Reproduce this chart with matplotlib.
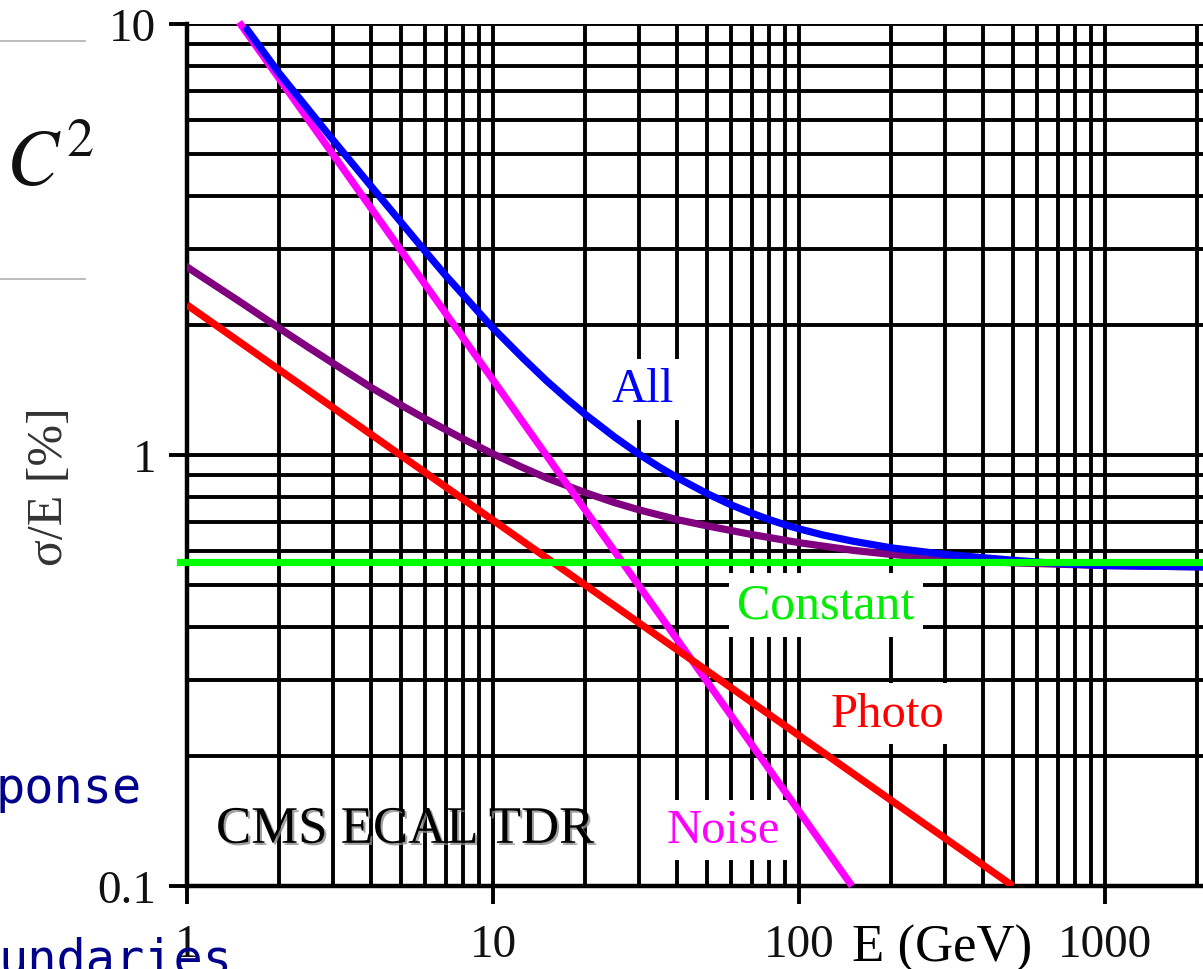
import matplotlib
matplotlib.use("Agg")
import matplotlib.pyplot as plt
import matplotlib.patheffects as pe
from matplotlib.ticker import LogLocator, NullFormatter, FixedLocator, FixedFormatter

plt.rcParams['font.family'] = ['Liberation Serif', 'DejaVu Serif']
plt.rcParams['mathtext.fontset'] = 'stix'

# curves (E in GeV, sigma/E in %)
E_all = [1.55, 2, 3, 4, 5, 6, 7, 8, 9, 10, 12.5, 15, 17.5, 20, 25, 30, 35, 40, 50, 60, 70, 80, 90,
         100, 120, 150, 200, 300, 500, 700, 1000, 2090]
res_all = [9.85, 7.69, 5.38, 4.20, 3.47, 2.97, 2.61, 2.35, 2.14, 1.97, 1.68, 1.484, 1.347, 1.243, 1.10,
           1.004, 0.937, 0.886, 0.814, 0.766, 0.733, 0.708, 0.689, 0.674, 0.652, 0.631, 0.609, 0.588,
           0.570, 0.560, 0.554, 0.55]

E_stoch = [1, 1.5, 2, 2.5, 3, 4, 5, 6, 7, 8, 10, 12.5, 15, 20, 25, 30, 40, 50, 70, 100, 150, 200, 300,
           500, 1000, 2090]
res_stoch = [2.73, 2.26, 1.97, 1.775, 1.633, 1.434, 1.306, 1.214, 1.145, 1.089, 1.006, 0.935, 0.884,
             0.818, 0.775, 0.746, 0.708, 0.685, 0.654, 0.626, 0.601, 0.588, 0.574, 0.562, 0.554, 0.55]

E_photo = [1, 500]
res_photo = [2.23, 0.1]

E_noise = [1.48, 149]
res_noise = [10.1, 0.1]

E_const = [0.95, 2090]
res_const = [0.565, 0.565]

xticks = [1, 10, 100, 1000]
xticklabels = ['1', '10', '100', '1000']
yticks = [0.1, 1, 10]
yticklabels = ['0.1', '1', '10']

W, H = 1203, 970
fig = plt.figure(figsize=(W / 100, H / 100), dpi=100)
ax = fig.add_axes([187 / W, 1 - 887 / H, 1 - 187 / W, (887 - 25) / H])
ax.set_xscale('log')
ax.set_yscale('log')
ax.set_xlim(1, 2090)
ax.set_ylim(0.1, 10)

# heavy black grid, every decade subdivision
ax.xaxis.set_minor_locator(LogLocator(base=10, subs=range(2, 10), numticks=20))
ax.yaxis.set_minor_locator(LogLocator(base=10, subs=range(2, 10), numticks=20))
ax.xaxis.set_minor_formatter(NullFormatter())
ax.yaxis.set_minor_formatter(NullFormatter())
ax.xaxis.set_major_locator(FixedLocator(xticks))
ax.xaxis.set_major_formatter(FixedFormatter(xticklabels))
ax.yaxis.set_major_locator(FixedLocator(yticks))
ax.yaxis.set_major_formatter(FixedFormatter(yticklabels))
ax.set_axisbelow(True)
ax.grid(which='both', color='black', lw=2.8)
ax.tick_params(which='minor', length=0)
ax.tick_params(which='major', length=13, width=2.8, direction='out', color='black',
               labelsize=34, labelcolor='#111111')
ax.tick_params(axis='x', pad=14)
ax.tick_params(axis='y', pad=9)
for s in ['top', 'right']:
    ax.spines[s].set_visible(False)
for s in ['left', 'bottom']:
    ax.spines[s].set_linewidth(3.2)

ax.plot(E_stoch, res_stoch, color='#800080', lw=5.2, zorder=3)
ax.plot(E_noise, res_noise, color='#ff00ff', lw=5.2, zorder=4, clip_on=False, solid_capstyle='butt')
ax.plot(E_all, res_all, color='#0000ff', lw=5.2, zorder=5, solid_capstyle='butt')
ax.plot(E_photo, res_photo, color='#ff0000', lw=5.2, zorder=6, solid_capstyle='butt')
ax.plot(E_const, res_const, color='#00ff00', lw=5.2, zorder=7, clip_on=False)

box = dict(facecolor='white', edgecolor='none', pad=6)
ax.text(30.9, 1.42, 'All', color='#0000ff', fontsize=35, ha='center', va='center', bbox=box, zorder=2)
ax.text(122.5, 0.449, 'Constant', color='#00ee00', fontsize=36, ha='center', va='center', bbox=box, zorder=2)
ax.text(195, 0.251, 'Photo', color='#ff0000', fontsize=35, ha='center', va='center', bbox=box, zorder=2)
ax.text(56.5, 0.135, 'Noise', color='#ff00ff', fontsize=35, ha='center', va='center', bbox=box, zorder=2)
ax.text(5.16, 0.135, 'CMS ECAL TDR', color='black', fontsize=38, ha='center', va='center', zorder=8,
        path_effects=[pe.withSimplePatchShadow(offset=(1.5, -1.5), shadow_rgbFace='#888888', alpha=0.8)])
ax.text(293, 0.0718, 'E (GeV)', color='black', fontsize=38, ha='center', va='center', bbox=box, zorder=8)

fig.text(50 / W, 1 - 487 / H, 'σ/E [%]', rotation=90, fontsize=36, color='#333333',
         ha='center', va='center')

# bits of the slide the figure was cut from
fig.add_artist(plt.Line2D([0, 85 / W], [1 - 42 / H, 1 - 42 / H], color='#b0b0b0', lw=1.2))
fig.add_artist(plt.Line2D([0, 85 / W], [1 - 280 / H, 1 - 280 / H], color='#b0b0b0', lw=1.2))
fig.text(6 / W, 1 - 185 / H, r'$C^2$', fontsize=56, color='#111111', ha='left', va='baseline')
fig.text(-5 / W, 1 - 803 / H, 'ponse', family='DejaVu Sans Mono', fontsize=35, color='#00008b',
         ha='left', va='baseline')
fig.text(-2 / W, 1 - 975 / H, 'undaries', family='DejaVu Sans Mono', fontsize=35, color='#00008b',
         ha='left', va='baseline')

fig.savefig('out.png', dpi=100)
